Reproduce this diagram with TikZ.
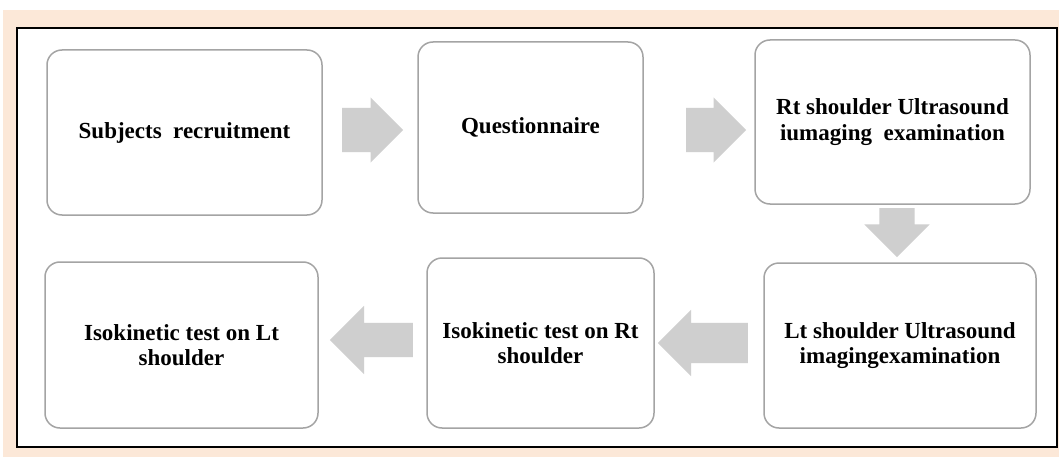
\documentclass[tikz,border=0pt]{standalone}
\usepackage{fontspec}
\setmainfont{Liberation Serif}
\usepackage{tikz}
\usetikzlibrary{shapes.arrows}
\definecolor{peach}{HTML}{FCE8D8}
\definecolor{boxline}{HTML}{A4A4A4}
\definecolor{flowgray}{HTML}{CFCFCF}

\begin{document}
\begin{tikzpicture}
                    [x=1pt, y=-1pt,
                    stage/.style={rectangle,
                        rounded corners=15pt,
                        fill=white, draw=boxline,
                        line width=1.5pt,
                        inner sep=0pt, align=center,
                        font=\fontsize{23}{25.5}\selectfont\bfseries},
                    flow/.style={single arrow,
                        single arrow tip angle=90,
                        fill=flowgray, draw=none,
                        inner xsep=0pt, anchor=tail}]

                    \useasboundingbox (0,0) rectangle (1059,457);
                    \fill[peach] (3,10) rectangle (1059,457);
                    \draw[line width=2pt, fill=white] (17,28) rectangle (1057,447);

                    \node[stage, minimum width=275pt, minimum height=165pt] (subj)
                        at (184.5,132.5) {Subjects\ \ recruitment};
                    \node[stage, minimum width=225pt, minimum height=171pt] (quest)
                        at (530.5,127.5) {Questionnaire};
                    \node[stage, minimum width=275pt, minimum height=164pt] (rtus)
                        at (892.5,122) {Rt shoulder Ultrasound\\iumaging\ \ examination};
                    \node[stage, minimum width=272pt, minimum height=165pt] (ltus)
                        at (900,345.5) {Lt shoulder Ultrasound\\imagingexamination};
                    \node[stage, minimum width=227pt, minimum height=170pt] (rtiso)
                        at (540.5,343) {Isokinetic test on Rt\\shoulder};
                    \node[stage, minimum width=273pt, minimum height=166pt] (ltiso)
                        at (181.5,345) {Isokinetic test on Lt\\shoulder};

                    \node[flow, minimum height=61pt, inner ysep=22pt,
                        single arrow head extend=10.5pt] (s2q) at (342,130) {};
                    \node[flow, minimum height=60pt, inner ysep=22pt,
                        single arrow head extend=10.5pt] (q2r) at (686,130) {};
                    \node[flow, minimum height=49pt, inner ysep=17.5pt,
                        single arrow head extend=15pt, rotate=-90] (r2l) at (897,208) {};
                    \node[flow, minimum height=90pt, inner ysep=20pt,
                        single arrow head extend=13pt, rotate=180] (l2r) at (748,343) {};
                    \node[flow, minimum height=83pt, inner ysep=17pt,
                        single arrow head extend=17pt, rotate=180] (r2l2) at (413,340) {};
                \end{tikzpicture}
\end{document}
